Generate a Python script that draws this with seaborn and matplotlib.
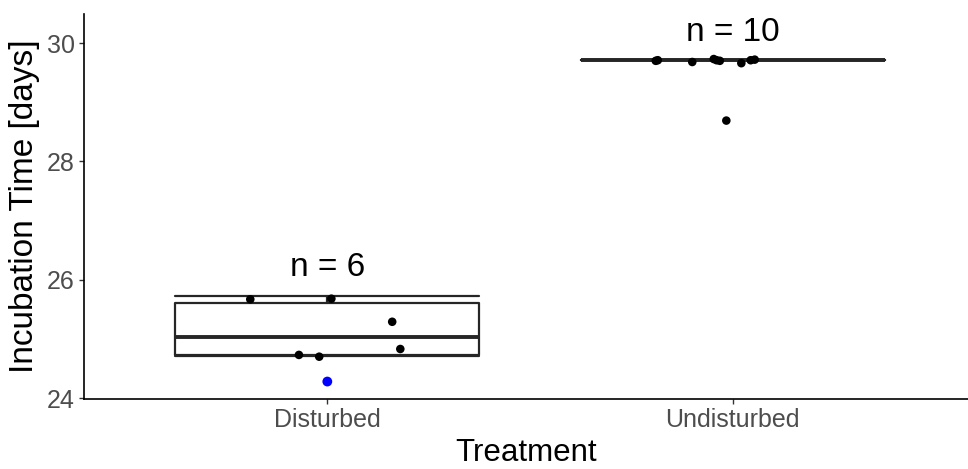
import numpy as np
import pandas as pd
import matplotlib
matplotlib.use("Agg")
import matplotlib.pyplot as plt
import seaborn as sns

# categories
treatments = ["Disturbed", "Undisturbed"]
n_labels = ["n = 6", "n = 10"]
n_label_y = [26.21, 30.18]

# box statistics
box_q1 = [24.73, 29.71]
box_med = [25.04, 29.71]
box_q3 = [25.61, 29.71]
box_lo = [24.71, 29.71]
box_hi = [25.72, 29.71]

# jittered observations (value, horizontal jitter)
disturbed_time = [25.67, 25.68, 25.29, 24.83, 24.73, 24.70]
disturbed_jit = [-0.19, 0.01, 0.16, 0.18, -0.07, -0.02]
undisturbed_time = [29.70, 29.71, 29.68, 29.73, 29.70, 29.66, 29.71, 29.72, 28.69, 29.71]
undisturbed_jit = [-0.19, -0.185, -0.10, -0.047, -0.032, 0.021, 0.044, 0.054, -0.016, -0.04]

# highlighted point
flag_time = [24.28]
flag_jit = [0.0]

sns.set_theme(style="ticks")
plt.rcParams['font.family'] = ['Liberation Sans', 'DejaVu Sans']

pts = pd.DataFrame({
    "Treatment": ["Disturbed"] * len(disturbed_time) + ["Undisturbed"] * len(undisturbed_time),
    "Time": disturbed_time + undisturbed_time,
    "jit": disturbed_jit + undisturbed_jit,
})
pts["x"] = pts["Treatment"].map({t: i for i, t in enumerate(treatments)}) + pts["jit"]

fig, ax = plt.subplots(figsize=(9.68, 4.69), dpi=100)
fig.subplots_adjust(left=0.0868, right=1.0, bottom=0.149, top=0.97)

stats = []
for i, t in enumerate(treatments):
    stats.append({"label": t, "q1": box_q1[i], "med": box_med[i], "q3": box_q3[i],
                  "whislo": box_lo[i], "whishi": box_hi[i], "fliers": []})

line_col = "#262626"
ax.bxp(stats, positions=range(len(treatments)), widths=0.75, capwidths=0.75,
       showfliers=False, patch_artist=False,
       boxprops=dict(color=line_col, linewidth=1.6),
       medianprops=dict(color=line_col, linewidth=2.8),
       whiskerprops=dict(color=line_col, linewidth=1.6),
       capprops=dict(color=line_col, linewidth=1.6))

sns.scatterplot(data=pts, x="x", y="Time", color="black", s=38,
                edgecolor="none", ax=ax, zorder=3, legend=False)
sns.scatterplot(x=np.array(flag_jit), y=flag_time, color="#0000FF", s=50,
                edgecolor="none", ax=ax, zorder=3, legend=False)

for i, lab in enumerate(n_labels):
    ax.text(i, n_label_y[i], lab, ha="center", va="center", fontsize=24, color="black")

ax.set_xlim(-0.6, 1.58)
ax.set_ylim(23.983, 30.49)
ax.set_xticks(range(len(treatments)))
ax.set_xticklabels(treatments)
ax.set_yticks([24, 26, 28, 30])
ax.tick_params(axis="both", labelsize=18, labelcolor="#4D4D4D", color="#333333",
               length=3.5, width=1, pad=3)
ax.set_xlabel("Treatment", fontsize=22.5, labelpad=4, color="black")
ax.set_ylabel("Incubation Time [days]", fontsize=24, labelpad=5, color="black")
sns.despine(ax=ax)
for s in ["left", "bottom"]:
    ax.spines[s].set_color("black")
    ax.spines[s].set_linewidth(1.2)
ax.grid(False)

fig.savefig("out.png", dpi=100)
